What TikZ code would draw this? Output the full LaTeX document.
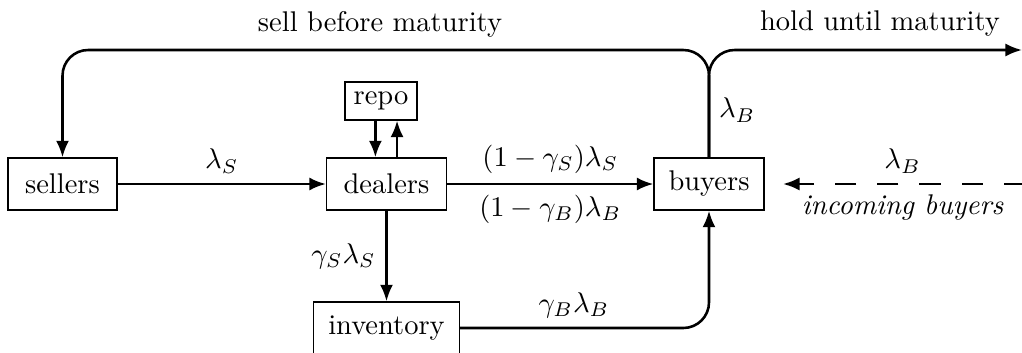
\documentclass[tikz,border=0pt]{standalone}
\usetikzlibrary{arrows.meta}
\begin{document}
\begin{tikzpicture}[x=0.351pt,y=-0.351pt,
  box/.style={draw,line width=0.45pt,inner sep=3pt,minimum height=18.3pt},
  arr/.style={line width=0.9pt,-{Latex[length=5.8pt,width=4.6pt]}},
  lbl/.style={inner sep=3.33pt}
  ]
\useasboundingbox (0,0) rectangle (1022,352);
% nodes
\node[box,minimum width=38.3pt] (sellers) at (62.5,184) {sellers};
\node[box,minimum width=42.1pt] (dealers) at (386.5,184) {dealers};
\node[box,minimum width=24.2pt,minimum height=13.3pt] (repo) at (381,101) {repo};
\node[box,minimum width=38.6pt] (buyers) at (709,184) {buyers};
\node[box,minimum width=51.2pt] (inventory) at (386.5,328) {inventory};
% helper coordinates
\coordinate (top) at (0,50);
\coordinate (holdend) at (1022,50);
\coordinate (incoming) at (1022,184);
\coordinate (incomingtip) at (783,184);
\coordinate (rdown) at ([xshift=-3.9pt]dealers.north);
\coordinate (rup) at ([xshift=3.7pt]dealers.north);
% connectors
\draw[arr] (sellers) -- node[lbl,above] (lS) {$\lambda_S$} (dealers);
\draw[arr] (dealers) -- node[lbl,above] (lone) {$(1-\gamma_S)\lambda_S$}
                        node[lbl,below] (ltwo) {$(1-\gamma_B)\lambda_B$} (buyers);
\draw[arr] (dealers.south) -- node[lbl,left] (lthree) {$\gamma_S\lambda_S$} (inventory.north);
\draw[arr] (rdown |- repo.south) -- (rdown);
\draw[arr] (rup) -- (rup |- repo.south);
\draw[arr,rounded corners=9pt] (inventory.east) -| (buyers.south);
\node[lbl,above] (lfour) at (574,328) {$\gamma_B\lambda_B$};
\draw[arr,rounded corners=9pt] (buyers.north) -- (buyers.north |- top) -- (sellers.north |- top) -- (sellers.north);
\draw[arr,rounded corners=9pt] (buyers.north) -- (buyers.north |- top) -- (holdend);
\node (sbm) at (380,24) {sell before maturity};
\node (hum) at (880,24) {hold until maturity};
\node[lbl,right] (lfive) at (709,110) {$\lambda_B$};
\draw[arr,dash pattern=on 7.4pt off 7.4pt,dash phase=1pt] (incoming) --
   node[lbl,above] (lsix) {$\lambda_B$}
   node[lbl,below] (lseven) {\itshape incoming buyers} (incomingtip);
\end{tikzpicture}
\end{document}
